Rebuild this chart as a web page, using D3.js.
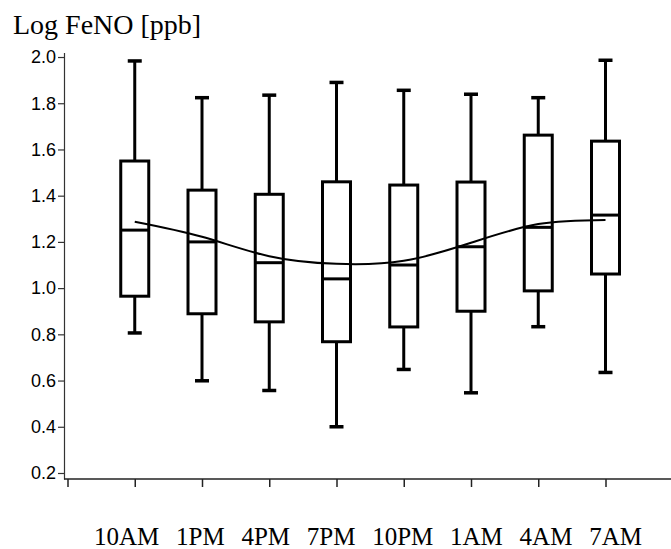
<!DOCTYPE html>
<html>
<head>
<meta charset="utf-8">
<script src="https://cdn.jsdelivr.net/npm/d3@7"></script>
<style>
  body { margin: 0; background: #fff; }
</style>
</head>
<body>
<div id="chart"></div>
<script>
// values (Log FeNO, ppb)
const times = ["10AM", "1PM", "4PM", "7PM", "10PM", "1AM", "4AM", "7AM"]
const whiskerLow  = [0.806, 0.599, 0.557, 0.400, 0.648, 0.547, 0.833, 0.635]
const q1          = [0.965, 0.889, 0.854, 0.768, 0.832, 0.900, 0.988, 1.061]
const median      = [1.251, 1.200, 1.110, 1.040, 1.100, 1.179, 1.263, 1.316]
const q3          = [1.550, 1.424, 1.406, 1.460, 1.446, 1.459, 1.662, 1.636]
const whiskerHigh = [1.983, 1.824, 1.835, 1.890, 1.856, 1.839, 1.824, 1.986]
// fitted rhythm curve at each time point
const fitCurve    = [1.287, 1.222, 1.138, 1.105, 1.118, 1.196, 1.277, 1.295]
const yTicks = [0.2, 0.4, 0.6, 0.8, 1.0, 1.2, 1.4, 1.6, 1.8, 2.0]

const width = 671
const height = 549

const svg = d3.select("#chart")
  .append("svg")
    .attr("width", width)
    .attr("height", height)

// slot 0 is empty, boxes sit on slots 1..8
const x = d3.scaleLinear()
  .domain([0, 9])
  .range([67.5, 672.75])

const y = d3.scaleLinear()
  .domain([0.174, 2.02])
  .range([479, 52.4])

const axisX = 64

// y axis
const yAxis = svg.append("g")
  .attr("transform", `translate(${axisX},0)`)
  .call(d3.axisLeft(y)
    .tickValues(yTicks)
    .tickFormat(d3.format(".1f"))
    .tickSize(6)
    .tickSizeOuter(0)
    .tickPadding(2))
yAxis.select(".domain").attr("stroke", "#333").attr("stroke-width", 1.2)
yAxis.selectAll(".tick line").attr("stroke", "#333").attr("stroke-width", 1.2)
yAxis.selectAll(".tick text")
  .attr("font-family", "'Liberation Sans', Arial, sans-serif")
  .attr("font-size", 18)
  .attr("fill", "#000")

// x axis
svg.append("line")
  .attr("x1", axisX).attr("x2", width)
  .attr("y1", y.range()[0]).attr("y2", y.range()[0])
  .attr("stroke", "#222")
  .attr("stroke-width", 1.5)

const xAxis = svg.append("g")
  .attr("transform", `translate(0,${y.range()[0]})`)
  .call(d3.axisBottom(x)
    .tickValues(d3.range(0, 9))
    .tickFormat("")
    .tickSize(8)
    .tickSizeOuter(0))
xAxis.select(".domain").remove()
xAxis.selectAll(".tick line").attr("stroke", "#222").attr("stroke-width", 1.5)

// x labels: one typeset line under the axis
svg.append("text")
  .attr("x", 94)
  .attr("y", 545)
  .attr("font-family", "'Liberation Serif', 'Times New Roman', serif")
  .attr("font-size", 25)
  .attr("word-spacing", 10.5)
  .attr("fill", "#000")
  .text(times.join(" "))

// y title
svg.append("text")
  .attr("x", 13)
  .attr("y", 34)
  .attr("font-family", "'Liberation Serif', 'Times New Roman', serif")
  .attr("font-size", 28)
  .attr("fill", "#000")
  .text("Log FeNO [ppb]")

// boxes
const boxData = times.map((t, i) => ({
  t: t,
  pos: i + 1,
  lo: whiskerLow[i],
  q1: q1[i],
  med: median[i],
  q3: q3[i],
  hi: whiskerHigh[i]
}))

const boxW = 28
const capW = 14
const stroke = 3

const boxes = svg.append("g")
  .selectAll("g")
  .data(boxData)
  .join("g")
    .attr("transform", d => `translate(${x(d.pos)},0)`)

boxes.append("line")   // upper whisker
  .attr("y1", d => y(d.hi)).attr("y2", d => y(d.q3))
  .attr("stroke", "#000").attr("stroke-width", stroke)
boxes.append("line")   // lower whisker
  .attr("y1", d => y(d.q1)).attr("y2", d => y(d.lo))
  .attr("stroke", "#000").attr("stroke-width", stroke)
boxes.append("line")   // top cap
  .attr("x1", -capW / 2).attr("x2", capW / 2)
  .attr("y1", d => y(d.hi)).attr("y2", d => y(d.hi))
  .attr("stroke", "#000").attr("stroke-width", 3.5)
boxes.append("line")   // bottom cap
  .attr("x1", -capW / 2).attr("x2", capW / 2)
  .attr("y1", d => y(d.lo)).attr("y2", d => y(d.lo))
  .attr("stroke", "#000").attr("stroke-width", 3.5)
boxes.append("rect")
  .attr("x", -boxW / 2)
  .attr("width", boxW)
  .attr("y", d => y(d.q3))
  .attr("height", d => y(d.q1) - y(d.q3))
  .attr("fill", "#fff")
  .attr("stroke", "#000")
  .attr("stroke-width", stroke)
boxes.append("line")   // median
  .attr("x1", -boxW / 2).attr("x2", boxW / 2)
  .attr("y1", d => y(d.med)).attr("y2", d => y(d.med))
  .attr("stroke", "#000").attr("stroke-width", stroke)

// fitted curve on top
const line = d3.line()
  .x((d, i) => x(i + 1))
  .y(d => y(d))
  .curve(d3.curveNatural)

svg.append("path")
  .datum(fitCurve)
  .attr("d", line)
  .attr("fill", "none")
  .attr("stroke", "#000")
  .attr("stroke-width", 2)
</script>
</body>
</html>
